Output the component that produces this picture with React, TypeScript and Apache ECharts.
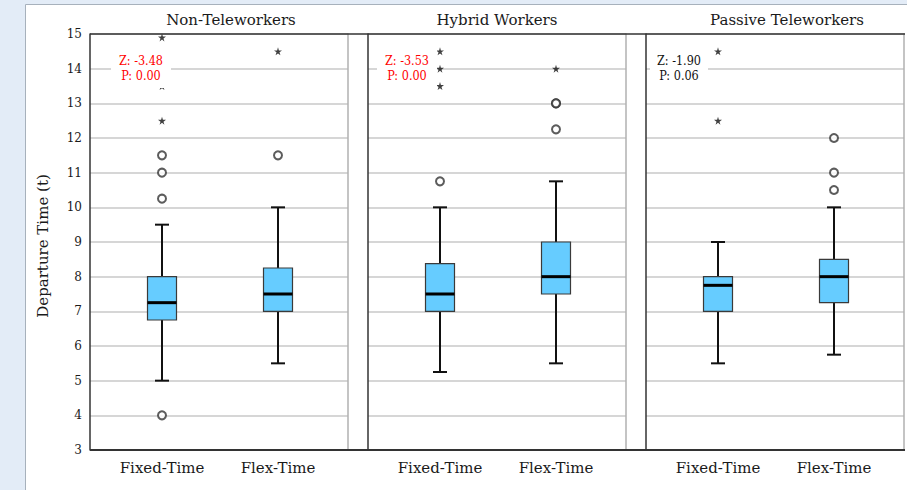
import React, { useEffect, useRef } from "react";
import * as echarts from "echarts";

const GROUPS = ["Non-Teleworkers", "Hybrid Workers", "Passive Teleworkers"];
const CATEGORIES = ["Fixed-Time", "Flex-Time"];
const Y_TITLE = "Departure Time (t)";
const Y_TICKS = [3, 4, 5, 6, 7, 8, 9, 10, 11, 12, 13, 14, 15];

// [low whisker, Q1, median, Q3, high whisker]
const BOX_NON = [
  [5, 6.75, 7.25, 8, 9.5],
  [5.5, 7, 7.5, 8.25, 10],
];
const BOX_HYB = [
  [5.25, 7, 7.5, 8.375, 10],
  [5.5, 7.5, 8, 9, 10.75],
];
const BOX_PAS = [
  [5.5, 7, 7.75, 8, 9],
  [5.75, 7.25, 8, 8.5, 10],
];

// [category index, value]
const CIRCLES_NON = [[0, 11.5], [0, 11], [0, 10.25], [0, 4], [1, 11.5]];
const STARS_NON = [[0, 14.9], [0, 13.5], [0, 12.5], [1, 14.5]];
const CIRCLES_HYB = [[0, 10.75], [1, 13], [1, 13], [1, 12.25]];
const STARS_HYB = [[0, 14.5], [0, 14], [0, 13.5], [1, 14]];
const CIRCLES_PAS = [[1, 12], [1, 11], [1, 10.5]];
const STARS_PAS = [[0, 14.5], [0, 12.5]];

const Z_VALUES = ["-3.48", "-3.53", "-1.90"];
const P_VALUES = ["0.00", "0.00", "0.06"];
const STAT_COLORS = ["#ff0000", "#ff0000", "#111111"];

const Y_MIN = 3;
const Y_MAX = 15;
const Y_INTERVAL = 1;

const BOXES = [BOX_NON, BOX_HYB, BOX_PAS];
const CIRCLES = [CIRCLES_NON, CIRCLES_HYB, CIRCLES_PAS];
const STARS = [STARS_NON, STARS_HYB, STARS_PAS];

const FONT = "DejaVu Serif";
const FONT_C = "DejaVu Serif Condensed";
const PANEL_LEFT = [90, 368, 646];
const PANEL_W = 258;
const TOP = 34;
const BOTTOM = 450;
const TITLE_X = [231, 497, 787];
const STAT_BOX = [
  [111, 171],
  [377, 437],
  [650, 708],
];

const STAR_PATH =
  "path://M50,0 L61,35 L98,35 L68,57 L79,91 L50,70 L21,91 L32,57 L2,35 L39,35 Z";

export default function App() {
  const ref = useRef<HTMLDivElement>(null);

  useEffect(() => {
    if (!ref.current) return;
    const chart = echarts.init(ref.current, null, { renderer: "svg" });

    const grid: any[] = [];
    const xAxis: any[] = [];
    const yAxis: any[] = [];
    const series: any[] = [];
    const graphic: any[] = [];

    graphic.push({
      type: "rect",
      shape: { x: 25.5, y: 4.5, width: 900, height: 500 },
      style: { fill: "#ffffff", stroke: "#a7b1bc", lineWidth: 1 },
      z: -10,
      silent: true,
    });

    for (let i = 0; i < 3; i++) {
      const L = PANEL_LEFT[i];
      grid.push({ left: L, top: TOP, width: PANEL_W, height: BOTTOM - TOP });
      grid.push({ left: L + 14, top: TOP, width: 232, height: BOTTOM - TOP });

      xAxis.push({ type: "category", gridIndex: 2 * i, show: false, data: CATEGORIES });
      xAxis.push({
        type: "category",
        gridIndex: 2 * i + 1,
        data: CATEGORIES,
        axisLine: { show: false },
        axisTick: { show: false },
        axisLabel: { show: false },
      });

      yAxis.push({
        type: "value",
        gridIndex: 2 * i,
        min: Y_MIN,
        max: Y_MAX,
        interval: Y_INTERVAL,
        axisLine: { show: true, lineStyle: { color: "#333333", width: 1.5 } },
        axisTick: { show: false },
        axisLabel: { show: false },
        splitLine: { show: true, lineStyle: { color: "#c8c8c8", width: 1.5 } },
      });
      yAxis.push({
        type: "value",
        gridIndex: 2 * i,
        position: "right",
        min: Y_MIN,
        max: Y_MAX,
        interval: Y_INTERVAL,
        axisLine: { show: true, lineStyle: { color: "#b0b0b0", width: 1.5 } },
        axisTick: { show: false },
        axisLabel: { show: false },
        splitLine: { show: false },
      });
      yAxis.push({
        type: "value",
        gridIndex: 2 * i + 1,
        min: Y_MIN,
        max: Y_MAX,
        interval: Y_INTERVAL,
        show: false,
      });

      const xIdx = 2 * i + 1;
      const yIdx = 3 * i + 2;

      series.push({
        type: "custom",
        xAxisIndex: xIdx,
        yAxisIndex: yIdx,
        data: BOXES[i].map((b, k) => [k, ...b]),
        encode: { x: 0, y: [1, 2, 3, 4, 5] },
        z: 3,
        renderItem: (params: any, api: any) => {
          const k = api.value(0);
          const low = api.coord([k, api.value(1)]);
          const q1 = api.coord([k, api.value(2)]);
          const med = api.coord([k, api.value(3)]);
          const q3 = api.coord([k, api.value(4)]);
          const high = api.coord([k, api.value(5)]);
          const cx = low[0];
          const hw = 14.5;
          const cw = 7;
          const wStyle = { stroke: "#111111", lineWidth: 2 };
          return {
            type: "group",
            children: [
              { type: "line", shape: { x1: cx, y1: low[1], x2: cx, y2: q1[1] }, style: wStyle },
              { type: "line", shape: { x1: cx, y1: q3[1], x2: cx, y2: high[1] }, style: wStyle },
              { type: "line", shape: { x1: cx - cw, y1: low[1], x2: cx + cw, y2: low[1] }, style: wStyle },
              { type: "line", shape: { x1: cx - cw, y1: high[1], x2: cx + cw, y2: high[1] }, style: wStyle },
              {
                type: "rect",
                shape: { x: cx - hw, y: q3[1], width: hw * 2, height: q1[1] - q3[1] },
                style: { fill: "#66ccff", stroke: "#3a3a3a", lineWidth: 1.2 },
              },
              {
                type: "line",
                shape: { x1: cx - hw, y1: med[1], x2: cx + hw, y2: med[1] },
                style: { stroke: "#000000", lineWidth: 3 },
              },
            ],
          };
        },
      });

      // category labels, placed through the category axis
      series.push({
        type: "custom",
        xAxisIndex: xIdx,
        yAxisIndex: yIdx,
        data: CATEGORIES.map((c, k) => [k, Y_MIN]),
        encode: { x: 0, y: 1 },
        silent: true,
        renderItem: (params: any, api: any) => {
          const p = api.coord([api.value(0), api.value(1)]);
          return {
            type: "text",
            x: p[0],
            y: p[1] + 18,
            style: {
              text: CATEGORIES[params.dataIndex],
              fontFamily: FONT,
              fontSize: 15,
              fill: "#1a1a1a",
              align: "center",
              verticalAlign: "middle",
            },
          };
        },
      });

      series.push({
        type: "scatter",
        xAxisIndex: xIdx,
        yAxisIndex: yIdx,
        data: CIRCLES[i],
        symbol: "emptyCircle",
        symbolSize: 8,
        itemStyle: { color: "#333333", borderColor: "#333333", borderWidth: 1.5 },
        z: 4,
      });
      series.push({
        type: "scatter",
        xAxisIndex: xIdx,
        yAxisIndex: yIdx,
        data: STARS[i],
        symbol: STAR_PATH,
        symbolSize: 8,
        itemStyle: { color: "#111111" },
        z: 4,
      });

      graphic.push({
        type: "text",
        x: TITLE_X[i],
        y: 20,
        style: {
          text: GROUPS[i],
          fontFamily: FONT,
          fontSize: 15,
          fill: "#1a1a1a",
          align: "center",
          verticalAlign: "middle",
        },
        z: 10,
      });

      const [bx0, bx1] = STAT_BOX[i];
      graphic.push({
        type: "rect",
        shape: { x: bx0, y: 48, width: bx1 - bx0, height: 40 },
        style: { fill: "#ffffff" },
        z: 50,
        silent: true,
      });
      graphic.push({
        type: "text",
        x: (bx0 + bx1) / 2,
        y: 60,
        style: {
          text: `Z: ${Z_VALUES[i]}`,
          fontFamily: FONT_C,
          fontSize: 12.5,
          fill: STAT_COLORS[i],
          align: "center",
          verticalAlign: "middle",
        },
        z: 51,
      });
      graphic.push({
        type: "text",
        x: (bx0 + bx1) / 2,
        y: 75,
        style: {
          text: `P: ${P_VALUES[i]}`,
          fontFamily: FONT_C,
          fontSize: 12.5,
          fill: STAT_COLORS[i],
          align: "center",
          verticalAlign: "middle",
        },
        z: 51,
      });
    }

    // y tick labels, placed through the value axis of the first panel
    series.push({
      type: "custom",
      xAxisIndex: 0,
      yAxisIndex: 0,
      data: Y_TICKS.map((v) => [0, v]),
      encode: { x: 0, y: 1 },
      silent: true,
      renderItem: (params: any, api: any) => {
        const p = api.coord([0, api.value(1)]);
        return {
          type: "text",
          x: params.coordSys.x - 8,
          y: p[1],
          style: {
            text: String(api.value(1)),
            fontFamily: FONT,
            fontSize: 12,
            fill: "#1a1a1a",
            align: "right",
            verticalAlign: "middle",
          },
        };
      },
    });

    graphic.push({
      type: "line",
      shape: { x1: PANEL_LEFT[0], y1: TOP, x2: PANEL_LEFT[2] + PANEL_W + 1, y2: TOP },
      style: { stroke: "#333333", lineWidth: 1.5 },
      z: 20,
    });
    graphic.push({
      type: "line",
      shape: { x1: PANEL_LEFT[0], y1: BOTTOM, x2: PANEL_LEFT[2] + PANEL_W + 1, y2: BOTTOM },
      style: { stroke: "#333333", lineWidth: 2 },
      z: 20,
    });
    graphic.push({
      type: "text",
      x: 43,
      y: 246,
      rotation: Math.PI / 2,
      style: {
        text: Y_TITLE,
        fontFamily: FONT,
        fontSize: 15,
        fill: "#1a1a1a",
        align: "center",
        verticalAlign: "middle",
      },
      z: 10,
    });

    chart.setOption({
      animation: false,
      backgroundColor: "transparent",
      textStyle: { fontFamily: FONT },
      grid,
      xAxis,
      yAxis,
      series,
      graphic,
    });

    return () => chart.dispose();
  }, []);

  return (
    <div
      style={{
        position: "fixed",
        left: 0,
        top: 0,
        width: 907,
        height: 490,
        background: "#e3ecf7",
      }}
    >
      <div ref={ref} style={{ width: 907, height: 490 }} />
    </div>
  );
}
